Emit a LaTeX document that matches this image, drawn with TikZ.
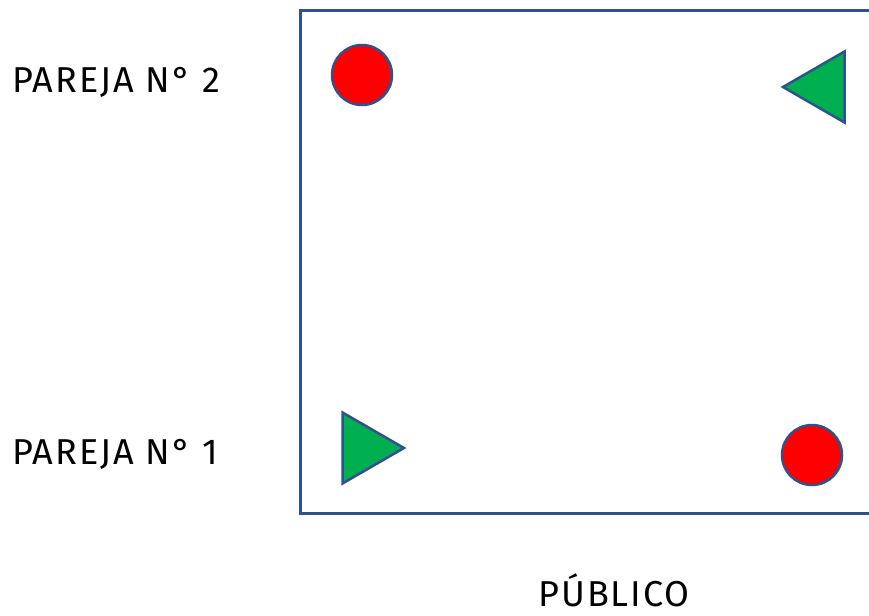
\documentclass[tikz,border=0pt]{standalone}
\usepackage{fontspec}
\setmainfont{Fira Sans}[LetterSpace=5.5]
\usepackage{xcolor}
\definecolor{edgeblue}{RGB}{47, 82, 143}
\definecolor{dancerred}{RGB}{255, 0, 0}
\definecolor{dancergreen}{RGB}{0, 176, 80}
\usetikzlibrary{
    shapes.geometric,
    positioning
}
\tikzstyle{woman} = [
    circle,
    draw=edgeblue,
    fill=dancerred,
    line width=2.5pt,
    minimum size=60pt,
    inner sep=0pt
]
\tikzstyle{man} = [
    regular polygon,
    regular polygon sides=3,
    draw=edgeblue,
    fill=dancergreen,
    line width=2.5pt,
    minimum size=82pt,
    inner sep=0pt
]
\tikzstyle{caption} = [
    font=\fontsize{36}{38}\selectfont,
    text depth=0pt,
    inner sep=0pt
]

\begin{document}
\begin{tikzpicture}[x=1pt, y=-1pt]
    \useasboundingbox (0,0) rectangle (869,615);

    % Dance floor
    \draw[edgeblue, line width=3pt] (890,11) -- (300,11) -- (300,513) -- (890,513);

    % Couple 2
    \node[woman] (woman2) at (362,75) {};
    \node[man, rotate=90] (man2) at (824,87) {};

    % Couple 1
    \node[man, rotate=-90] (man1) at (363,448) {};
    \node[woman] (woman1) at (812,455) {};

    % Labels
    \node[caption, anchor=base west] (couple2) at (12,93) {PAREJA N° 2};
    \node[caption, anchor=base west] (couple1) at (12,464) {PAREJA N° 1};
    \node[caption, anchor=base] (audience) at (614,606) {PÚBLICO};

\end{tikzpicture}
\end{document}
